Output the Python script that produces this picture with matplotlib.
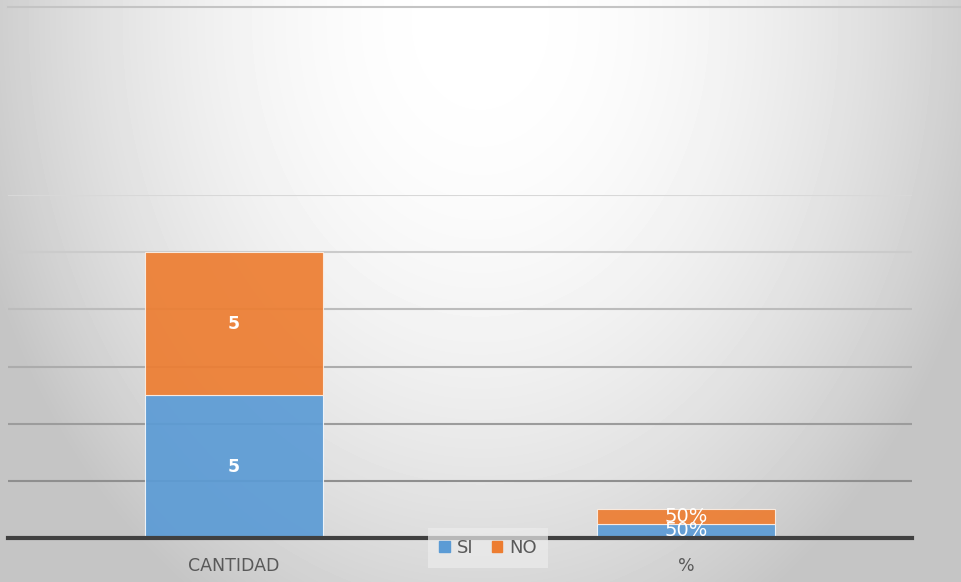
import numpy as np
import matplotlib.pyplot as plt
from matplotlib.patches import Patch

categories = ["CANTIDAD", "%"]
si_values = [5, 0.5]
no_values = [5, 0.5]
si_labels = ["5", "50%"]
no_labels = ["5", "50%"]
grid_levels = [2, 4, 6, 8, 10, 12]

W, H = 961, 582
fig = plt.figure(figsize=(W / 100, H / 100), dpi=100)

# soft background gradient, bright along the top centre
bg = fig.add_axes([0, 0, 1, 1])
yy, xx = np.mgrid[0:H, 0:W]
d = np.sqrt(((xx - 480) / 540.0) ** 2 + ((yy - 20) / 700.0) ** 2)
shade = np.clip(1.0 - 0.24 * d ** 2.0, 0.77, 1.0)
bg.imshow(shade, cmap="gray", vmin=0, vmax=1, extent=[0, W, H, 0], aspect="auto")
bg.plot([8, 960], [7, 7], color="#c4c4c4", lw=1.5)
bg.set_xlim(0, W)
bg.set_ylim(H, 0)
bg.axis("off")

ax = fig.add_axes([8 / W, 44 / H, 904 / W, 343 / H])
ax.patch.set_alpha(0)
x = np.arange(len(categories))
width = 0.396

grid_colors = ["#8f8f8f", "#9c9c9c", "#acacac", "#bcbcbc", "#cbcbcb", "#d8d8d8"]
for lvl, c in zip(grid_levels, grid_colors):
    ax.axhline(lvl, color=c, lw=1.5, zorder=0)

ax.bar(x, si_values, width, color="#5B9BD5", alpha=0.92, edgecolor="#f4f8fc",
       linewidth=0.8, zorder=2)
ax.bar(x, no_values, width, bottom=si_values, color="#ED7D31", alpha=0.92,
       edgecolor="#fbeee4", linewidth=0.8, zorder=2)
ax.axhline(0, color="#404040", lw=3, zorder=3, clip_on=False)

for i in range(len(categories)):
    fs = 12.5 if i == 0 else 14
    fw = "bold" if i == 0 else "normal"
    ax.text(x[i], si_values[i] / 2, si_labels[i], color="white", ha="center", va="center",
            fontsize=fs, fontweight=fw, zorder=4)
    ax.text(x[i], si_values[i] + no_values[i] / 2, no_labels[i], color="white", ha="center",
            va="center", fontsize=fs, fontweight=fw, zorder=4)

ax.set_xlim(-0.5, 1.5)
ax.set_ylim(0, 12)
ax.set_yticks([])
ax.set_xticks(x)
ax.set_xticklabels(categories, fontsize=12.5, color="#595959")
ax.tick_params(axis="x", length=0, pad=14)
for s in ax.spines.values():
    s.set_visible(False)

handles = [Patch(color="#5B9BD5", label="SI"), Patch(color="#ED7D31", label="NO")]
leg = fig.legend(handles=handles, loc="center", bbox_to_anchor=(488 / W, 1 - 548 / H),
                 ncol=2, frameon=True, fontsize=13, handlelength=0.6, handleheight=0.6,
                 handletextpad=0.4, columnspacing=1.0, borderpad=0.6)
leg.get_frame().set_facecolor("#ececec")
leg.get_frame().set_alpha(0.7)
leg.get_frame().set_edgecolor("none")
leg.get_frame().set_boxstyle("square", pad=0)
for t in leg.get_texts():
    t.set_color("#595959")

fig.savefig("out.png", dpi=100)
